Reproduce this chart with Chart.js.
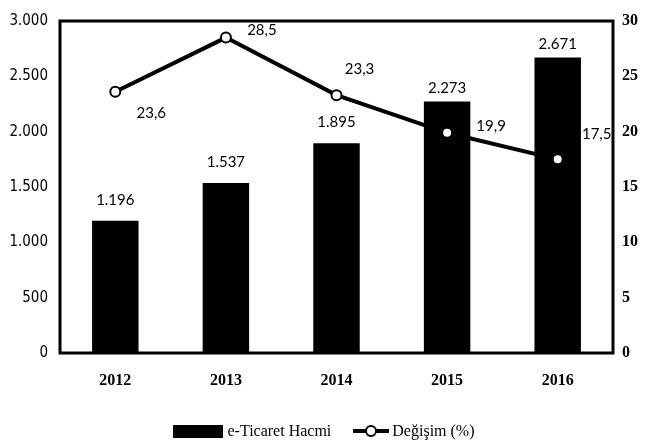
<!DOCTYPE html>
<html>
<head>
<meta charset="utf-8">
<script src="https://cdn.jsdelivr.net/npm/chart.js@4.4.0/dist/chart.umd.min.js"></script>
<style>
  body { margin: 0; background: #fff; }
  #wrap { position: relative; width: 648px; height: 445px; }
  #legend {
    position: absolute; left: 0; width: 648px; top: 422px;
    display: flex; justify-content: center; align-items: center;
    font-family: "Liberation Serif", serif; font-size: 16px; color: #000;
  }
  .lg-item { display: flex; align-items: center; margin: 0 10px; }
  .lg-box { width: 50px; height: 13px; background: #000; margin-right: 4px; }
</style>
</head>
<body>
<div id="wrap">
  <canvas id="chart" width="648" height="445"></canvas>
  <div id="legend">
    <div class="lg-item"><div class="lg-box"></div><span>e-Ticaret Hacmi</span></div>
    <div class="lg-item">
      <svg width="40" height="14" style="margin-right:1px">
        <line x1="2" y1="7" x2="38" y2="7" stroke="#000" stroke-width="4"/>
        <circle cx="20" cy="7" r="5" fill="#fff" stroke="#000" stroke-width="2"/>
      </svg>
      <span>Değişim (%)</span>
    </div>
  </div>
</div>
<script>
// Data
const years = ['2012', '2013', '2014', '2015', '2016'];
const hacim = [1196, 1537, 1895, 2273, 2671];
const degisim = [23.6, 28.5, 23.3, 19.9, 17.5];
const hacimLabels = ['1.196', '1.537', '1.895', '2.273', '2.671'];
const degisimLabels = ['23,6', '28,5', '23,3', '19,9', '17,5'];
const leftTicks = ['0', '500', '1.000', '1.500', '2.000', '2.500', '3.000'];

// label offsets (style only)
const barLabelDy = [-20, -21, -21, -13, -13];
const lineLabelOff = [[36, 21], [36, -7], [23, -26], [44, -7], [39, -25]];

const labelPlugin = {
  id: 'valueLabels',
  afterDatasetsDraw(chart) {
    const ctx = chart.ctx;
    ctx.save();
    ctx.fillStyle = '#000';
    ctx.font = '15px Lato, sans-serif';
    ctx.textAlign = 'center';
    ctx.textBaseline = 'middle';
    chart.getDatasetMeta(0).data.forEach((el, i) => {
      ctx.fillText(hacimLabels[i], el.x, el.y + barLabelDy[i]);
    });
    chart.getDatasetMeta(1).data.forEach((el, i) => {
      ctx.fillText(degisimLabels[i], el.x + lineLabelOff[i][0], el.y + lineLabelOff[i][1]);
    });
    ctx.restore();
  }
};

const framePlugin = {
  id: 'frame',
  afterDraw(chart) {
    const a = chart.chartArea;
    const ctx = chart.ctx;
    ctx.save();
    ctx.strokeStyle = '#000';
    ctx.lineWidth = 3;
    ctx.strokeRect(a.left, a.top, a.right - a.left, a.bottom - a.top);
    ctx.restore();
  }
};

new Chart(document.getElementById('chart'), {
  data: {
    labels: years,
    datasets: [
      {
        type: 'bar',
        label: 'e-Ticaret Hacmi',
        data: hacim,
        backgroundColor: '#000',
        yAxisID: 'y',
        barPercentage: 0.42,
        categoryPercentage: 1,
        order: 2
      },
      {
        type: 'line',
        label: 'Değişim (%)',
        data: degisim,
        borderColor: '#000',
        borderWidth: 4,
        pointRadius: 5,
        pointBackgroundColor: '#fff',
        pointBorderColor: '#000',
        pointBorderWidth: 2,
        yAxisID: 'y1',
        tension: 0,
        order: 1
      }
    ]
  },
  options: {
    responsive: false,
    animation: false,
    layout: { padding: { top: 12, bottom: 0, left: 0, right: 0 } },
    plugins: {
      legend: { display: false },
      tooltip: { enabled: false }
    },
    scales: {
      x: {
        grid: { display: false, drawTicks: false },
        border: { display: false },
        ticks: {
          color: '#000',
          padding: 18,
          font: { family: 'Liberation Serif', weight: 'bold', size: 16 }
        },
        afterFit(scale) { scale.height = 92; }
      },
      y: {
        position: 'left',
        min: 0,
        max: 3000,
        grid: { display: false, drawTicks: false },
        border: { display: false },
        ticks: {
          stepSize: 500,
          color: '#000',
          padding: 12,
          font: { family: 'DejaVu Sans Condensed', size: 15 },
          callback: (v, i) => leftTicks[i]
        },
        afterFit(scale) { scale.width = 60; }
      },
      y1: {
        position: 'right',
        min: 0,
        max: 30,
        grid: { display: false, drawTicks: false },
        border: { display: false },
        ticks: {
          stepSize: 5,
          color: '#000',
          padding: 9,
          font: { family: 'Liberation Serif', weight: 'bold', size: 16 }
        },
        afterFit(scale) { scale.width = 35; }
      }
    }
  },
  plugins: [labelPlugin, framePlugin]
});
</script>
</body>
</html>
